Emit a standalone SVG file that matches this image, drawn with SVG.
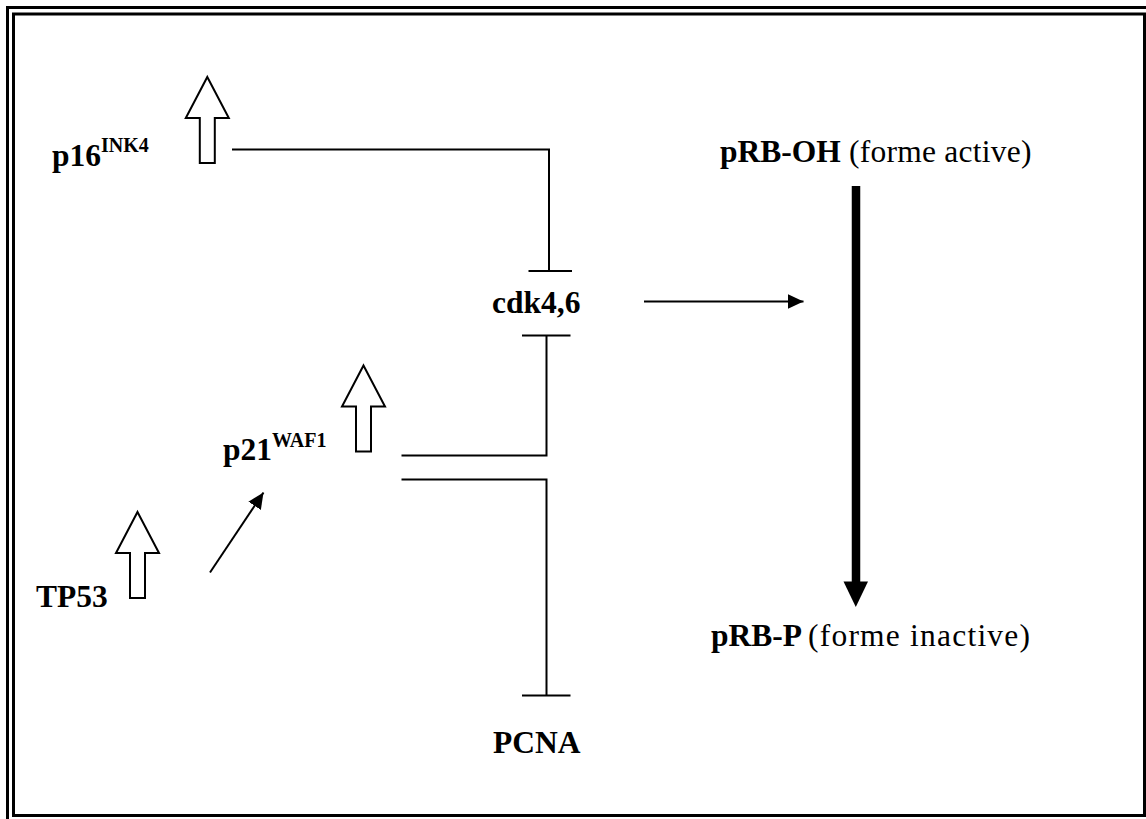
<svg xmlns="http://www.w3.org/2000/svg" xmlns:xlink="http://www.w3.org/1999/xlink" width="1146" height="819" viewBox="0 0 1146 819">
<style>
.t{font-family:"Liberation Serif","Times New Roman",serif;font-size:31.5px;fill:#000}
.b{font-weight:bold}
.sup{font-size:20px;font-weight:bold}
.ln{stroke:#000;stroke-width:2;fill:none}
.blk{fill:#fff;stroke:#000;stroke-width:2}
.frame{fill:none;stroke:#000;stroke-width:3}
</style>
<defs>
<path id="up" d="M0,0 L21.5,41 L7.5,41 L7.5,86 L-7.5,86 L-7.5,41 L-21.5,41 Z"/>
<marker id="ah" markerWidth="16" markerHeight="15" refX="16" refY="7.5" orient="auto" markerUnits="userSpaceOnUse">
<path d="M0,0 L16,7.5 L0,15 Z" fill="#000"/>
</marker>
</defs>
<rect width="1146" height="819" fill="#fff"/>
<g id="frame">
<path class="frame" d="M7.5,819 L7.5,7.5 L1146,7.5"/>
<path class="frame" d="M13.5,14 L1144.5,14 L1144.5,815.5 L13.5,815.5 Z" stroke-width="2.5"/>
</g>
<g id="connectors">
<path class="ln" d="M232,149.5 L549,149.5 L549,271"/>
<path class="ln" d="M528.5,271 L572,271"/>
<path class="ln" d="M401.5,455.5 L546.5,455.5 L546.5,335.5"/>
<path class="ln" d="M522,335.5 L570.5,335.5"/>
<path class="ln" d="M401.5,479.5 L546.5,479.5 L546.5,695.5"/>
<path class="ln" d="M522,695.5 L570.5,695.5"/>
<path class="ln" d="M210,572.5 L263.5,492.5" marker-end="url(#ah)"/>
<path class="ln" d="M644,301.5 L803.5,301.5" marker-end="url(#ah)"/>
<path d="M856,186 L856,582" stroke="#000" stroke-width="8.5"/>
<path d="M843.5,581.5 L868,581.5 L855.8,607 Z" fill="#000"/>
</g>
<g id="p16">
<use xlink:href="#up" class="blk" transform="translate(207.3,77)"/>
<text class="t b" x="52" y="166">p16<tspan class="sup" dy="-14.5">INK4</tspan></text>
</g>
<g id="p21">
<use xlink:href="#up" class="blk" transform="translate(363.5,365.5)"/>
<text class="t b" x="223" y="460">p21<tspan class="sup" dy="-13.5">WAF1</tspan></text>
</g>
<g id="tp53">
<use xlink:href="#up" class="blk" transform="translate(137.5,512)"/>
<text class="t b" x="36" y="607">TP53</text>
</g>
<g id="cdk46">
<text class="t b" x="492" y="313">cdk4,6</text>
</g>
<g id="pcna">
<text class="t b" x="493" y="753">PCNA</text>
</g>
<g id="prb-oh">
<text class="t" y="162"><tspan class="b" x="720">pRB-OH</tspan><tspan x="849" textLength="182.5">(forme active)</tspan></text>
</g>
<g id="prb-p">
<text class="t" y="646"><tspan class="b" x="711">pRB-P</tspan><tspan x="808" textLength="222">(forme inactive)</tspan></text>
</g>
</svg>
